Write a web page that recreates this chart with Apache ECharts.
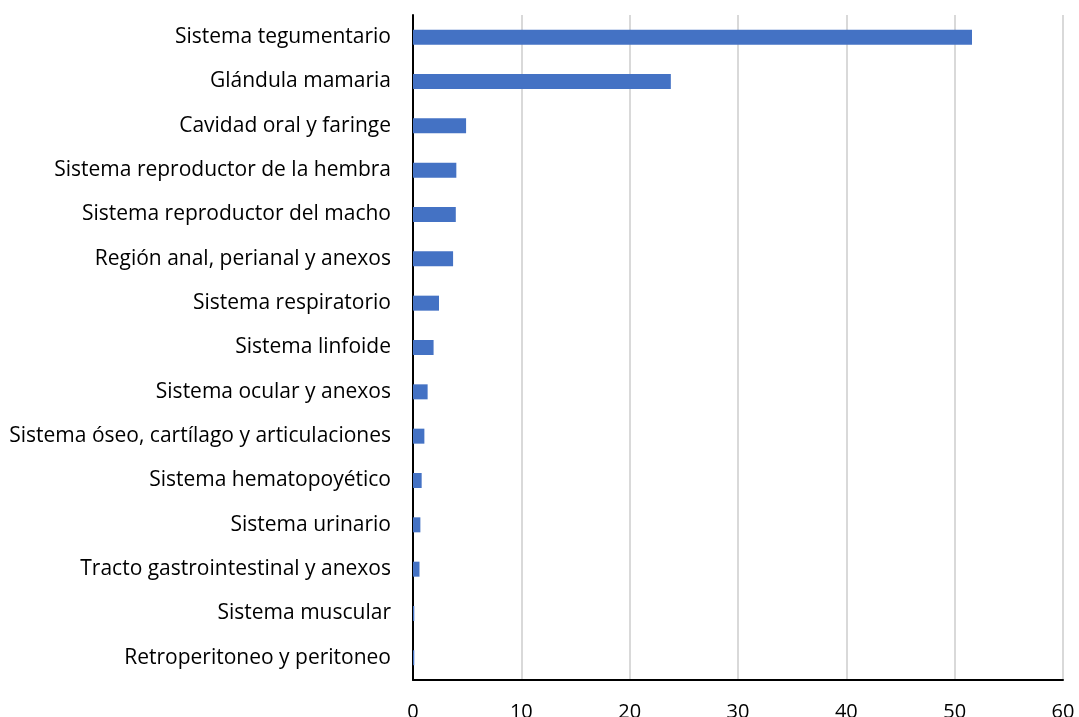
<!DOCTYPE html>
<html>
<head>
<meta charset="utf-8">
<script src="https://cdn.jsdelivr.net/npm/echarts@6/dist/echarts.min.js"></script>
<style>
  html, body { margin: 0; padding: 0; background: #fff; }
  #chart { width: 1079px; height: 717px; }
</style>
</head>
<body>
<div id="chart"></div>
<script>
// categorías (de arriba a abajo)
const categories = [
  'Sistema tegumentario',
  'Glándula mamaria',
  'Cavidad oral y faringe',
  'Sistema reproductor de la hembra',
  'Sistema reproductor del macho',
  'Región anal, perianal y anexos',
  'Sistema respiratorio',
  'Sistema linfoide',
  'Sistema ocular y anexos',
  'Sistema óseo, cartílago y articulaciones',
  'Sistema hematopoyético',
  'Sistema urinario',
  'Tracto gastrointestinal y anexos',
  'Sistema muscular',
  'Retroperitoneo y peritoneo'
]
const values = [51.6, 23.8, 4.9, 4.0, 3.95, 3.7, 2.4, 1.9, 1.35, 1.05, 0.8, 0.68, 0.6, 0.12, 0.12]

const chart = echarts.init(document.getElementById('chart'))
const font = '"Open Sans", sans-serif'

chart.setOption({
  animation: false,
  grid: { left: 413, right: 16, top: 15, bottom: 37, outerBoundsMode: 'none', containLabel: false },
  xAxis: {
    type: 'value',
    min: 0,
    max: 60,
    interval: 10,
    axisLine: { show: true, lineStyle: { color: '#000', width: 2 } },
    axisTick: { show: false },
    axisLabel: { color: '#000', fontSize: 20, fontFamily: font, margin: 22 },
    splitLine: { show: true, lineStyle: { color: '#d9d9d9', width: 2 } }
  },
  yAxis: {
    type: 'category',
    inverse: true,
    data: categories,
    axisLine: { show: true, lineStyle: { color: '#000', width: 2 } },
    axisTick: { show: false },
    axisLabel: { color: '#000', fontSize: 21, fontFamily: font, margin: 22, padding: [5, 0, 0, 0] }
  },
  series: [
    {
      type: 'bar',
      data: values,
      barWidth: 15,
      itemStyle: { color: '#4472C4' }
    }
  ]
})
</script>
</body>
</html>
